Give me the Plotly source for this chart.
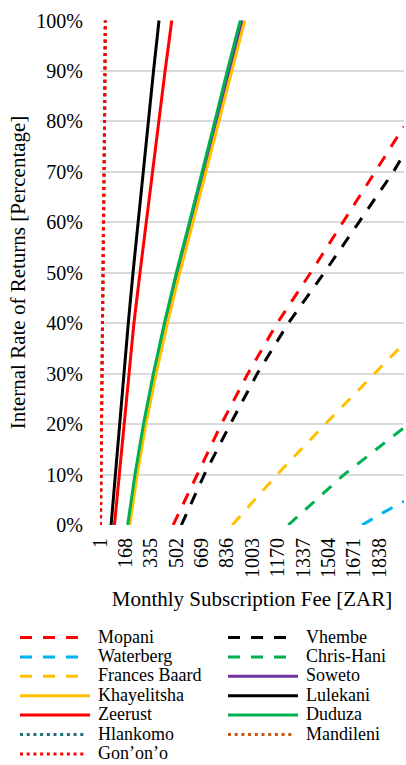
import plotly.graph_objects as go

# Axis ticks
fee_ticks = [1, 168, 335, 502, 669, 836, 1003, 1170, 1337, 1504, 1671, 1838]
irr_ticks = [0.0, 0.1, 0.2, 0.3, 0.4, 0.5, 0.6, 0.7, 0.8, 0.9, 1.0]

# IRR against monthly subscription fee (ZAR) for each site
mopani_fee = [482, 641, 799, 973, 1166, 1386, 1600, 1810, 2000]
mopani_irr = [0.00, 0.10, 0.20, 0.30, 0.40, 0.50, 0.60, 0.70, 0.79]

vhembe_fee = [536, 687, 858, 1035, 1239, 1475, 1703, 1930, 2000]
vhembe_irr = [0.00, 0.10, 0.20, 0.30, 0.40, 0.50, 0.60, 0.70, 0.735]

waterberg_fee = [1725, 1860, 2000]
waterberg_irr = [0.00, 0.024, 0.047]

chrishani_fee = [1239, 1422, 1606, 2000]
chrishani_irr = [0.00, 0.05, 0.10, 0.193]

francesbaard_fee = [871, 1166, 1482, 1803, 2000]
francesbaard_irr = [0.00, 0.10, 0.20, 0.30, 0.36]

soweto_fee = [190, 239, 295, 361, 434, 514, 600, 686, 769, 852, 938]
soweto_irr = [0.0, 0.1, 0.2, 0.3, 0.4, 0.5, 0.6, 0.7, 0.8, 0.9, 1.0]

khayelitsha_fee = [197, 246, 303, 370, 444, 525, 612, 698, 781, 866, 953]
khayelitsha_irr = [0.0, 0.1, 0.2, 0.3, 0.4, 0.5, 0.6, 0.7, 0.8, 0.9, 1.0]

lulekani_fee = [74, 101, 129, 157, 187, 218, 251, 284, 318, 353, 389]
lulekani_irr = [0.0, 0.1, 0.2, 0.3, 0.4, 0.5, 0.6, 0.7, 0.8, 0.9, 1.0]

zeerust_fee = [96, 128, 159, 191, 224, 264, 305, 346, 386, 429, 473]
zeerust_irr = [0.0, 0.1, 0.2, 0.3, 0.4, 0.5, 0.6, 0.7, 0.8, 0.9, 1.0]

duduza_fee = [183, 231, 287, 352, 424, 503, 589, 674, 756, 838, 923]
duduza_irr = [0.0, 0.1, 0.2, 0.3, 0.4, 0.5, 0.6, 0.7, 0.8, 0.9, 1.0]

hlankomo_fee = [4, 12, 19, 26, 31, 36]
hlankomo_irr = [0.0, 0.2, 0.4, 0.6, 0.8, 1.0]

mandileni_fee = [4, 12, 19, 26, 31, 36]
mandileni_irr = [0.0, 0.2, 0.4, 0.6, 0.8, 1.0]

gonono_fee = [4, 12, 19, 26, 31, 36]
gonono_irr = [0.0, 0.2, 0.4, 0.6, 0.8, 1.0]

DASH = "12px,11px"
DOT = "3px,3.7px"

series = [
    ("Mopani", mopani_fee, mopani_irr, "#FF0000", DASH),
    ("Vhembe", vhembe_fee, vhembe_irr, "#000000", DASH),
    ("Waterberg", waterberg_fee, waterberg_irr, "#00B0F0", DASH),
    ("Chris-Hani", chrishani_fee, chrishani_irr, "#00B050", DASH),
    ("Frances Baard", francesbaard_fee, francesbaard_irr, "#FFC000", DASH),
    ("Soweto", soweto_fee, soweto_irr, "#7030A0", "solid"),
    ("Khayelitsha", khayelitsha_fee, khayelitsha_irr, "#FFC000", "solid"),
    ("Lulekani", lulekani_fee, lulekani_irr, "#000000", "solid"),
    ("Zeerust", zeerust_fee, zeerust_irr, "#FF0000", "solid"),
    ("Duduza", duduza_fee, duduza_irr, "#00B050", "solid"),
    ("Hlankomo", hlankomo_fee, hlankomo_irr, "#1F6F7A", DOT),
    ("Mandileni", mandileni_fee, mandileni_irr, "#C55A11", DOT),
    ("Gon\u2019on\u2019o", gonono_fee, gonono_irr, "#FF0000", DOT),
]

FONT = "Liberation Serif, Times New Roman, serif"
W, H = 406, 765
ML, MR, MT, MB = 100, 2, 20, 240
PW, PH = W - ML - MR, H - MT - MB

fig = go.Figure()
for name, fee, irr, color, dash in series:
    fig.add_trace(go.Scatter(
        x=fee, y=irr, mode="lines", name=name, showlegend=False,
        line=dict(color=color, width=3, dash=dash),
    ))


def px_x(px):
    return (px - ML) / PW


def px_y(py):
    return (H - MB - py) / PH


# Two-column legend under the chart
shapes, annotations = [], []
for i, (name, fee, irr, color, dash) in enumerate(series):
    row, col = divmod(i, 2)
    x0 = 20 if col == 0 else 228
    yc = 636.5 + row * 19.4
    x1 = x0 + (60 if dash == DASH else 66 if dash == DOT else 70)
    shapes.append(dict(
        type="line", xref="paper", yref="paper",
        x0=px_x(x0), x1=px_x(x1), y0=px_y(yc + 1), y1=px_y(yc + 1),
        line=dict(color=color, width=3, dash=dash),
    ))
    annotations.append(dict(
        xref="paper", yref="paper", x=px_x(x0 + 76), y=px_y(yc),
        text=name, showarrow=False, xanchor="left", yanchor="middle",
        font=dict(family=FONT, size=18, color="#000000"),
    ))

fig.update_layout(
    width=W, height=H,
    margin=dict(l=ML, r=MR, t=MT, b=MB, pad=0),
    paper_bgcolor="white", plot_bgcolor="white",
    showlegend=False,
    shapes=shapes, annotations=annotations,
    font=dict(family=FONT, color="#000000"),
)

fig.update_xaxes(
    range=[1, 2000], tickmode="array", tickvals=fee_ticks,
    ticktext=[str(v) for v in fee_ticks], tickangle=-90,
    showgrid=False, zeroline=False, showline=False, ticks="",
    ticklabelstandoff=8, automargin=False,
    tickfont=dict(family=FONT, size=20, color="#000000"),
    title=dict(text="Monthly Subscription Fee [ZAR]", standoff=14,
               font=dict(family=FONT, size=21, color="#000000")),
)

fig.update_yaxes(
    range=[0, 1.001], tickmode="array", tickvals=irr_ticks, tickformat=".0%",
    showgrid=True, gridcolor="#D9D9D9", gridwidth=2,
    zeroline=False, showline=False, ticks="",
    ticklabelstandoff=16, automargin=False,
    tickfont=dict(family=FONT, size=20, color="#000000"),
    title=dict(text="Internal Rate of Returns [Percentage]", standoff=4,
               font=dict(family=FONT, size=21, color="#000000")),
)

fig.write_html("out.html")
